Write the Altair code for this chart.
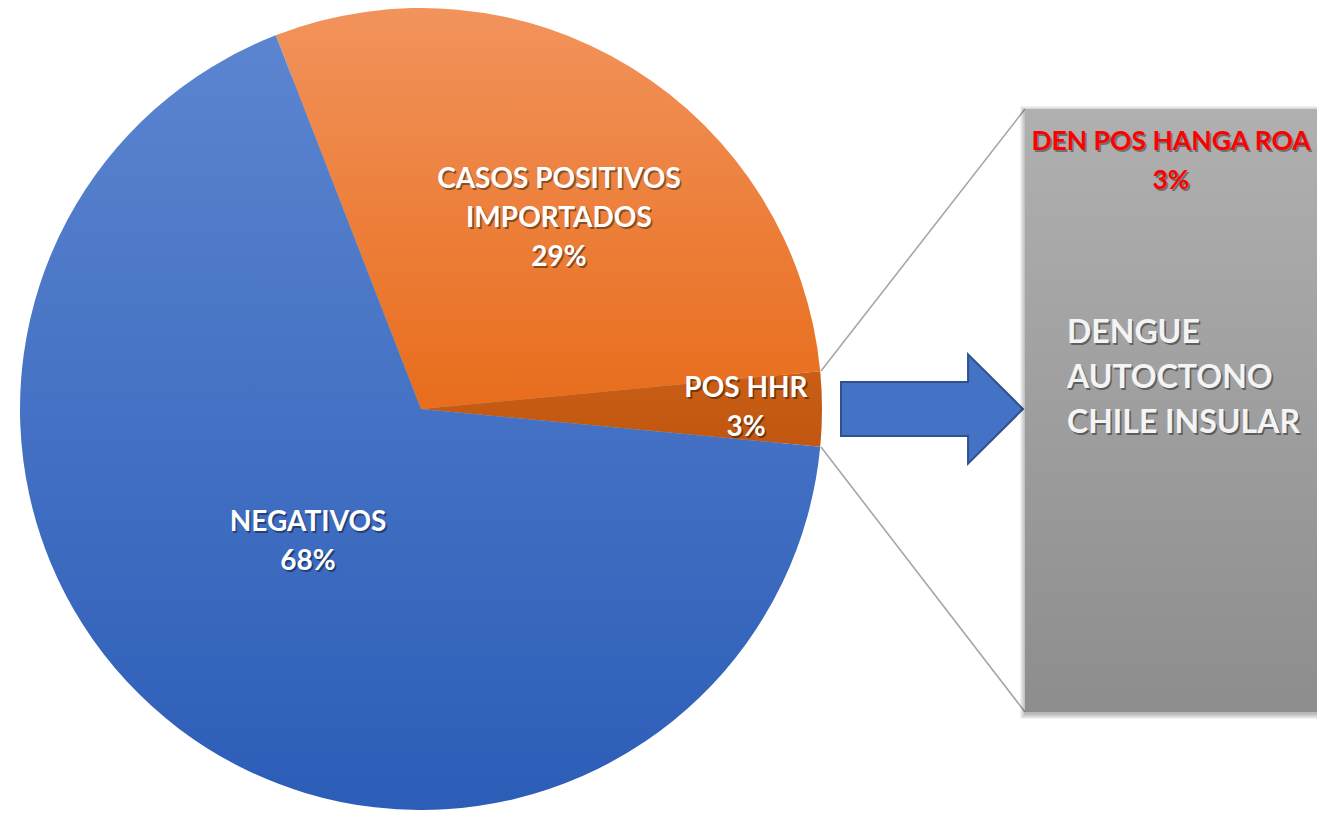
import math
import altair as alt
import pandas as pd

# ---------------- data ----------------
categories = ["CASOS POSITIVOS IMPORTADOS", "POS HHR", "NEGATIVOS"]
labels = ["CASOS POSITIVOS\nIMPORTADOS", "POS HHR", "NEGATIVOS"]
values = [29.4, 3.0, 67.6]
slice_order = [1, 2, 3]

bar_label = ["DEN POS HANGA ROA"]
bar_value = [3.0]
bar_title = ["DENGUE\nAUTOCTONO\nCHILE INSULAR"]

# ---------------- layout / style ----------------
W, H = 1309, 802
CX, CY, R = 413, 401, 401
FONT = "Lato"
START = math.radians(90 - (values[1] / 2 + values[0]) * 3.6)
theta_scale = alt.Scale(domain=[0, sum(values)], range=[START, START + 2 * math.pi])


def grad(top, bottom):
    return alt.LinearGradient(
        gradient="linear", x1=0, y1=0, x2=0, y2=1,
        stops=[alt.GradientStop(color=top, offset=0), alt.GradientStop(color=bottom, offset=1)],
    )


slice_fill = {
    "CASOS POSITIVOS IMPORTADOS": grad("#F2935C", "#E86D1C"),
    "POS HHR": grad("#CA5E16", "#C0560F"),
    "NEGATIVOS": grad("#5C85D0", "#2C5DB7"),
}
# (radius, dx, dy) for slice labels (position of the first text line)
label_pos = {
    "CASOS POSITIVOS IMPORTADOS": (236, 14, -28),
    "POS HHR": (325, 0, -20),
    "NEGATIVOS": (174, -8, -25),
}

df = pd.DataFrame({"cat": categories, "label": labels, "value": values, "order": slice_order})
df_bar = pd.DataFrame({"label": bar_label, "value": bar_value, "title": bar_title})
one = pd.DataFrame({"k": [0]})

base = (
    alt.Chart(df)
    .transform_window(cum="sum(value)", sort=[alt.SortField("order", order="ascending")])
    .transform_calculate(
        start="datum.cum - datum.value",
        mid="datum.cum - datum.value / 2",
        txt='datum.label + "\\n" + format(datum.value / 100, ".0%")',
    )
)

layers = []

# pie shadow
for k in range(7, 0, -1):
    rr = R + k
    layers.append(
        alt.Chart(one).mark_circle(size=math.pi * rr * rr, color="#000000", opacity=0.045)
        .encode(x=alt.value(CX), y=alt.value(CY + 2))
    )

# pie slices
for c in categories:
    layers.append(
        base.transform_filter(alt.datum.cat == c)
        .mark_arc(radius=R, fill=slice_fill[c], stroke="transparent", strokeWidth=0)
        .encode(
            theta=alt.Theta("start:Q", scale=theta_scale, stack=None),
            theta2="cum:Q",
            x=alt.value(CX), y=alt.value(CY),
        )
    )

# slice labels (shadow + text)
for c in categories:
    rad, dx, dy = label_pos[c]
    for is_shadow in (True, False):
        layers.append(
            base.transform_filter(alt.datum.cat == c)
            .mark_text(
                radius=rad, dx=dx + (1.6 if is_shadow else 0), dy=dy + (1.8 if is_shadow else 0),
                font=FONT, fontSize=28, fontWeight="bold", lineBreak="\n", lineHeight=39,
                align="center", baseline="middle",
                color="#000000" if is_shadow else "#FFFFFF", opacity=0.4 if is_shadow else 1,
            )
            .encode(
                theta=alt.Theta("mid:Q", scale=theta_scale, stack=None),
                text="txt:N",
                x=alt.value(CX), y=alt.value(CY),
            )
        )

# connector lines
layers.append(
    alt.Chart(one).mark_rule(color="#A6A6A6", strokeWidth=1.6)
    .encode(x=alt.value(813), y=alt.value(363), x2=alt.value(1017), y2=alt.value(101))
)
layers.append(
    alt.Chart(one).mark_rule(color="#A6A6A6", strokeWidth=1.6)
    .encode(x=alt.value(813), y=alt.value(439), x2=alt.value(1017), y2=alt.value(704))
)

# arrow
arrow_path = "M-1,-0.297L0.396,-0.297L0.396,-0.6L1,0L0.396,0.6L0.396,0.297L-1,0.297Z"
layers.append(
    alt.Chart(one).mark_point(
        shape=arrow_path, size=182 * 182, filled=True, fill="#4472C4", fillOpacity=1,
        stroke="#2F528F", strokeWidth=2, opacity=1,
    ).encode(x=alt.value(924), y=alt.value(401))
)

# bar shadow
for k in range(6, 0, -1):
    layers.append(
        alt.Chart(one).mark_rect(color="#000000", opacity=0.05)
        .encode(x=alt.value(1017 - k + 1), x2=alt.value(1309), y=alt.value(101 - k + 3), y2=alt.value(704 + k + 1))
    )

# secondary bar (stacked segment for the 3 %)
bar_scale = alt.Scale(domain=[0, bar_value[0]], range=[704, 101])
layers.append(
    alt.Chart(df_bar).mark_rect(fill=grad("#B0B0B0", "#8D8D8D"))
    .encode(
        y=alt.Y("value:Q", scale=bar_scale, axis=None),
        y2=alt.value(704),
        x=alt.value(1017), x2=alt.value(1309),
    )
)

# bar label (red)
for is_shadow in (True, False):
    layers.append(
        alt.Chart(df_bar)
        .transform_calculate(txt='datum.label + "\\n" + format(datum.value / 100, ".0%")')
        .mark_text(
            font=FONT, fontSize=26.5, fontWeight="bold", lineBreak="\n", lineHeight=39,
            align="center", baseline="middle",
            dx=1.6 if is_shadow else 0, dy=1.8 if is_shadow else 0,
            color="#000000" if is_shadow else "#FF0000", opacity=0.35 if is_shadow else 1,
        )
        .encode(text="txt:N", x=alt.value(1163), y=alt.value(134))
    )

# title in the bar
for is_shadow in (True, False):
    layers.append(
        alt.Chart(df_bar)
        .mark_text(
            font=FONT, fontSize=32, fontWeight="bold", lineBreak="\n", lineHeight=45,
            align="left", baseline="middle",
            dx=1.6 if is_shadow else 0, dy=1.8 if is_shadow else 0,
            color="#000000" if is_shadow else "#F4F4F4", opacity=0.4 if is_shadow else 1,
        )
        .encode(text="title:N", x=alt.value(1059), y=alt.value(325))
    )

chart = (
    alt.layer(*layers)
    .properties(width=W, height=H, padding=0, autosize="none", background="#FFFFFF")
    .configure_view(stroke=None)
)

chart.save("out.html", embed_options={"renderer": "svg", "actions": False})
